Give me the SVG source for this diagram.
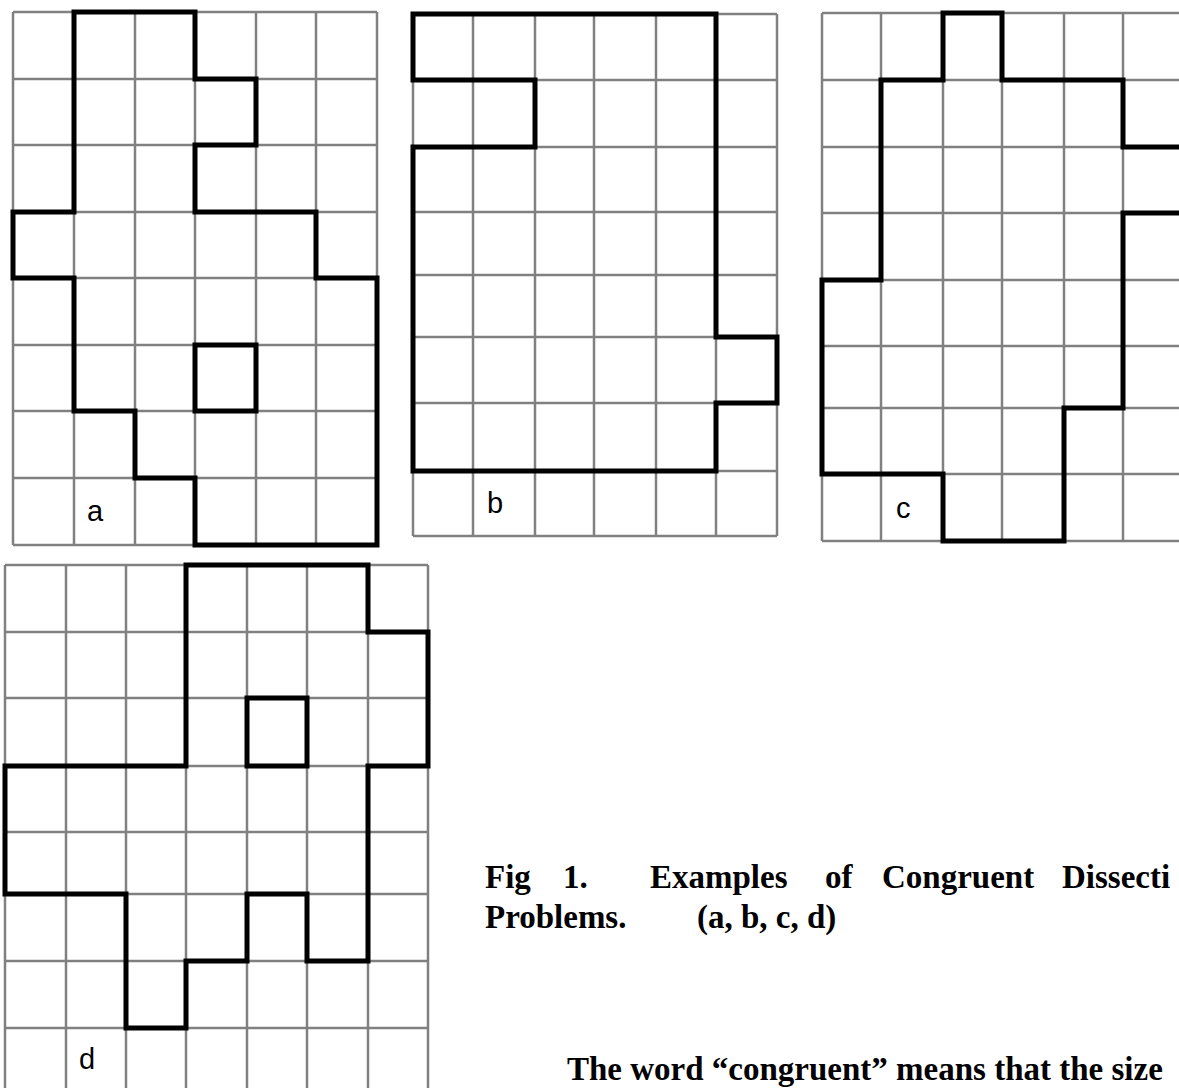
<svg xmlns="http://www.w3.org/2000/svg" width="1179" height="1088" viewBox="0 0 1179 1088">
<style>
.grid{fill:none;stroke:#808080;stroke-width:2.5}
.shape{fill:none;stroke:#000;stroke-width:5;stroke-linejoin:miter;stroke-linecap:square}
.lbl{font-family:"Liberation Sans",Arial,sans-serif;font-size:29px;fill:#000}
.cap{font-family:"Liberation Serif","Times New Roman",serif;font-weight:bold;font-size:33px;fill:#000}
</style>
<rect width="1179" height="1088" fill="#fff"/>
<g id="grid-a">
<path class="grid" d="M13 12V545M74 12V545M135 12V545M195 12V545M256 12V545M316 12V545M377 12V545M13 12H377M13 79H377M13 145H377M13 212H377M13 278H377M13 345H377M13 411H377M13 478H377M13 545H377"/>
<path class="shape" d="M74 12H195V79H256V145H195V212H316V278H377V545H195V478H135V411H74V278H13V212H74Z"/>
<path class="shape" d="M195 345H256V411H195Z"/>
<text class="lbl" x="87" y="521">a</text>
</g>
<g id="grid-b">
<path class="grid" d="M413 14V536M473 14V536M535 14V536M594 14V536M656 14V536M716 14V536M777 14V536M413 14H777M413 80H777M413 147H777M413 212H777M413 275H777M413 337H777M413 403H777M413 471H777M413 536H777"/>
<path class="shape" d="M413 14H716V337H777V403H716V471H413V147H535V80H413Z"/>
<text class="lbl" x="487" y="513">b</text>
</g>
<g id="grid-c">
<path class="grid" d="M822 13V541M881 13V541M943 13V541M1002 13V541M1064 13V541M1123 13V541M1184 13V541M822 13H1190M822 80H1190M822 147H1190M822 213H1190M822 280H1190M822 346H1190M822 408H1190M822 474H1190M822 541H1190"/>
<path class="shape" d="M1192 147H1123V80H1002V13H943V80H881V280H822V474H943V541H1064V408H1123V213H1192"/>
<text class="lbl" x="896" y="518">c</text>
</g>
<g id="grid-d">
<path class="grid" d="M5 565V1100M66 565V1100M126 565V1100M186 565V1100M247 565V1100M307 565V1100M368 565V1100M428 565V1100M5 565H428M5 632H428M5 698H428M5 766H428M5 832H428M5 894H428M5 961H428M5 1028H428"/>
<path class="shape" d="M186 565H368V632H428V766H368V961H307V894H247V961H186V1028H126V894H5V766H186Z"/>
<path class="shape" d="M247 698H307V766H247Z"/>
<text class="lbl" x="79" y="1069">d</text>
</g>
<g id="connectors"></g>
<g id="caption">
<text class="cap" y="888"><tspan x="485">Fig</tspan><tspan x="563">1.</tspan><tspan x="650">Examples</tspan><tspan x="825">of</tspan><tspan x="882">Congruent</tspan><tspan x="1062">Dissecti</tspan></text>
<text class="cap" y="928"><tspan x="485">Problems.</tspan><tspan x="697">(a, b, c, d)</tspan></text>
<text class="cap" x="567" y="1080">The word “congruent” means that the size</text>
</g>
</svg>
